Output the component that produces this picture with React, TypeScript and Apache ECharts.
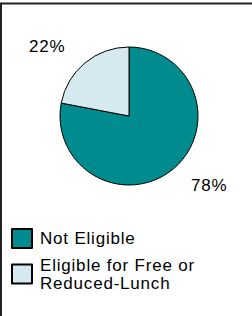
import React, { useEffect, useRef } from 'react';
import * as echarts from 'echarts';

const categories = ['Not Eligible', 'Eligible for Free or Reduced-Lunch'];
const values = [78, 22];
const legendLabels = ['Not Eligible', 'Eligible for Free or\nReduced-Lunch'];
const colors = ['#008B8F', '#D5EAEF'];

export default function App() {
  const ref = useRef<HTMLDivElement>(null);
  useEffect(() => {
    const chart = echarts.init(ref.current!, null, { renderer: 'svg' });
    const font = '"Liberation Sans", Arial, sans-serif';
    chart.setOption({
      animation: false,
      backgroundColor: '#fff',
      textStyle: { fontFamily: font },
      graphic: [
        { type: 'line', shape: { x1: 0, y1: 3.5, x2: 252, y2: 3.5 }, style: { stroke: '#222', lineWidth: 2 } },
        { type: 'line', shape: { x1: 1, y1: 3, x2: 1, y2: 316 }, style: { stroke: '#222', lineWidth: 2 } },
      ],
      legend: [
        {
          data: [categories[0]],
          orient: 'vertical',
          left: 11,
          top: 228,
          padding: 0,
          icon: 'rect',
          itemWidth: 20,
          itemHeight: 19,
          selectedMode: false,
          formatter: () => legendLabels[0],
          textStyle: { fontSize: 17, color: '#000', fontFamily: font, padding: [0, 0, 0, 3] },
        },
        {
          data: [categories[1]],
          orient: 'vertical',
          left: 11,
          top: 247,
          padding: 0,
          icon: 'rect',
          itemWidth: 20,
          itemHeight: 19,
          selectedMode: false,
          formatter: () => legendLabels[1],
          textStyle: { fontSize: 17, lineHeight: 18, color: '#000', fontFamily: font, padding: [18, 0, 0, 3] },
        },
      ],
      series: [
        {
          type: 'pie',
          center: [129, 116],
          radius: 69,
          startAngle: 90,
          clockwise: true,
          data: categories.map((n, i) => ({ name: n, value: values[i], itemStyle: { color: colors[i] } })),
          itemStyle: { borderColor: '#000', borderWidth: 1 },
          label: {
            show: true,
            position: 'outside',
            formatter: '{c}%',
            fontSize: 17,
            color: '#000',
            fontFamily: font,
            overflow: 'none',
          },
          labelLine: { show: false },
          labelLayout: (p: any) =>
            p.dataIndex === 0
              ? { x: 191, y: 185, align: 'left', verticalAlign: 'middle' }
              : { x: 29, y: 46, align: 'left', verticalAlign: 'middle' },
          emphasis: { disabled: true },
        },
      ],
    });
    return () => chart.dispose();
  }, []);
  return (
    <>
      <style>{'#root text { letter-spacing: 0.8px; }'}</style>
      <div ref={ref} style={{ position: 'fixed', left: 0, top: 0, width: 252, height: 316 }} />
    </>
  );
}
